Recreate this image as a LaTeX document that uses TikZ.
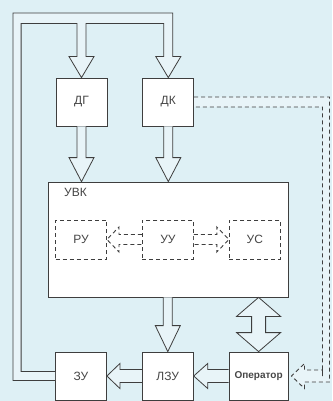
\documentclass[tikz,border=0pt]{standalone}
\usepackage{fontspec}
\setmainfont{Liberation Sans}
\usepackage{xcolor}
\definecolor{cBg}{RGB}{222,240,245}
\definecolor{cLine}{RGB}{62,62,62}
\definecolor{cText}{RGB}{70,70,70}
\usetikzlibrary{positioning,calc}
\tikzset{
  node-blk/.style={draw=cLine,line width=0.8pt,fill=white,minimum width=51pt,
    minimum height=48pt,inner sep=0pt,text=cText,font=\fontsize{12}{14}\selectfont},
  node-sub/.style={node-blk,fill=none,line width=0.9pt,dash pattern=on 4pt off 3pt,
    minimum height=39pt},
  arrow-hollow/.style={draw=cLine,line width=0.8pt,fill=white!30!cBg,line join=miter},
  arrow-hollow-dash/.style={arrow-hollow,fill=white,line width=0.9pt,dash pattern=on 4pt off 3pt},
  line-fb/.style={draw=cLine,line width=0.8pt,fill=white!30!cBg},
}
% hollow arrows: tail, tip, head length (signed), half width of the stem
\newcommand{\hollowv}[5][]{%
  \draw[arrow-hollow,#1] ($(#2)+(-#5,0)$) -- ($(#3)+(-#5,#4)$) -- ($(#3)+(-12.5,#4)$) -- (#3)
    -- ($(#3)+(12.5,#4)$) -- ($(#3)+(#5,#4)$) -- ($(#2)+(#5,0)$);}
\newcommand{\hollowh}[5][]{%
  \draw[arrow-hollow,#1] ($(#2)+(0,-#5)$) -- ($(#3)+(#4,-#5)$) -- ($(#3)+(#4,-12.5)$) -- (#3)
    -- ($(#3)+(#4,12.5)$) -- ($(#3)+(#4,#5)$) -- ($(#2)+(0,#5)$);}
\begin{document}
\begin{tikzpicture}[x=1pt,y=-1pt]
  \fill[cBg] (0,0) rectangle (332,401);
  \useasboundingbox (0,0) rectangle (332,401);
  % sensors
  \node[node-blk] (dg) at (81.5,102) {ДГ};
  \node[node-blk,right=35pt of dg] (dk) {ДК};
  % computer
  \node[node-blk,minimum width=240pt,minimum height=115pt] (uvk) at (168,239.5) {};
  \node[anchor=west,text=cText,font=\fontsize{12}{14}\selectfont] (uvk-lbl)
    at ($(uvk.north west)+(13,11)$) {УВК};
  \node[node-sub] (ru) at (81,239.5) {РУ};
  \node[node-sub,right=35pt of ru] (uu) {УУ};
  \node[node-sub,right=35pt of uu] (us) {УС};
  % bottom row
  \node[node-blk] (zu) at (81,376) {ЗУ};
  \node[node-blk,right=35pt of zu] (lzu) {ЛЗУ};
  \node[node-blk,right=35pt of lzu,minimum width=59pt,
    font=\fontsize{10}{12}\selectfont\bfseries] (op) {Оператор};

  % feedback from ЗУ to the sensors
  \draw[line-fb] ($(zu.west)+(0,4.5)$) -| (13,13) -| ($(dk.north)+(4.5,-21)$) -- ++(8,0)
    -- (dk.north) -- ++(-12.5,-21) -- ++(8,0) |- ($(dg.north)+(4.5,-54)$) -- ++(0,33)
    -- ++(8,0) -- (dg.north) -- ++(-12.5,-21) -- ++(8,0) -- ++(0,-33)
    -| ($(zu.west)+(-34,-4.5)$) -- ($(zu.west)+(0,-4.5)$);
  % dashed link ДК -> Оператор
  \coordinate (op-tip) at ($(op.east)+(3,0)$);
  \draw[arrow-hollow,line width=0.9pt,dash pattern=on 4pt off 3pt] ($(dk.east)+(0,-5)$)
    -| ($(op-tip)+(38,6)$) -- ($(op-tip)+(13,6)$) -- ++(0,6.5) -- (op-tip)
    -- ($(op-tip)+(13,-12.5)$) -- ++(0,6.5) -| ($(op-tip)+(31,0)$) |- ($(dk.east)+(0,5)$);

  \hollowv{dg.south}{dg.south |- uvk.north}{-24}{4.5}
  \hollowv{dk.south}{dk.south |- uvk.north}{-24}{4.5}
  \hollowv{lzu.north |- uvk.south}{lzu.north}{-26}{4.5}
  \hollowh{lzu.west}{zu.east}{13}{6.5}
  \hollowh{op.west}{lzu.east}{14}{6.5}
  \hollowh[arrow-hollow-dash]{uu.west}{ru.east}{12}{5}
  \hollowh[arrow-hollow-dash]{uu.east}{us.west}{-12}{5}

  % two-way link УВК <-> Оператор
  \coordinate (op-top) at (op.north |- uvk.south);
  \draw[arrow-hollow] (op.north) -- ++(-22,-19) -- ++(15,0) -- ($(op-top)+(-7,19)$)
    -- ++(-15,0) -- (op-top) -- ++(22,19) -- ++(-15,0) -- ($(op.north)+(7,-19)$)
    -- ++(15,0) -- cycle;
\end{tikzpicture}
\end{document}
